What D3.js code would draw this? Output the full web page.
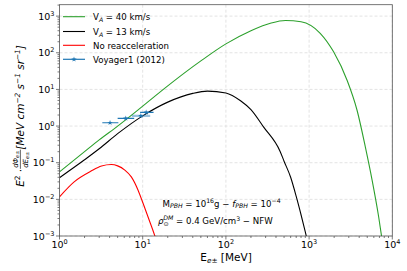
<!DOCTYPE html>
<html lang="en">
<head>
  <meta charset="UTF-8">
  <title>Positron flux</title>
  <style>
    body { margin: 0; background: #fff; }
    svg { display: block; font-family: 'DejaVu Sans', sans-serif; }
  </style>
</head>
<body>
<svg width="407" height="271"></svg>
<script src="https://d3js.org/d3.v7.min.js"></script>
<script>
// curves: [E (MeV), E^2 dPhi/dE]
const greenE = [1, 2, 3, 5, 10, 20, 50, 100, 200, 350, 520, 800, 1360, 1970, 2860, 3770, 4740, 5710, 6860, 7600];
const greenY = [0.056, 0.2, 0.42, 1.0, 3.5, 12.5, 60, 175, 400, 650, 760, 700, 340, 106, 17.8, 2.7, 0.27, 0.034, 0.0033, 0.0007];

const blackE = [1, 2, 3, 5, 10, 20, 40, 60, 100, 150, 200, 283, 450, 500, 600, 700, 800, 900, 960];
const blackY = [0.039, 0.12, 0.24, 0.62, 1.9, 4.5, 7.8, 9.0, 8.0, 4.9, 2.8, 0.95, 0.2, 0.11, 0.04, 0.012, 0.0038, 0.0013, 0.0007];

const redE = [1, 1.5, 2.4, 3.2, 4.2, 5, 6.1, 7.3, 8.8, 10.1, 11.6, 14, 15];
const redY = [0.0117, 0.03, 0.059, 0.081, 0.089, 0.082, 0.063, 0.041, 0.0178, 0.0078, 0.0033, 0.001, 0.0006];

// Voyager1 (2012) points
const voyE = [4.05, 6.26, 9.5, 11.0];
const voyY = [1.23, 1.62, 1.9, 2.36];
const voyElo = [3.27, 5.0, 7.4, 9.3];
const voyEhi = [5.1, 7.9, 12.3, 13.5];

const legendLabels = [["V", "A", " = 40 km/s"], ["V", "A", " = 13 km/s"], ["No reacceleration"], ["Voyager1 (2012)"]];
const xTicks = [1, 10, 100, 1000, 10000];
const yTicks = [1e-3, 1e-2, 1e-1, 1, 10, 100, 1000];

const svg = d3.select("svg");
const pL = 59.5, pR = 392.3, pT = 4.7, pB = 236;

const x = d3.scaleLog().domain([1, 1e4]).range([pL, pR]);
const y = d3.scaleLog().domain([1e-3, 2.05e3]).range([pB, pT]);

svg.append("defs").append("clipPath").attr("id", "clip")
  .append("rect").attr("x", pL).attr("y", pT).attr("width", pR - pL).attr("height", pB - pT);

// grid
const grid = svg.append("g").attr("stroke", "#dcdcdc").attr("stroke-width", 0.8).attr("stroke-dasharray", "3,2");
xTicks.forEach(t => grid.append("line").attr("x1", x(t)).attr("x2", x(t)).attr("y1", pT).attr("y2", pB));
yTicks.forEach(t => grid.append("line").attr("x1", pL).attr("x2", pR).attr("y1", y(t)).attr("y2", y(t)));

// ticks
const tickG = svg.append("g").attr("stroke", "#444").attr("stroke-width", 0.7);
x.ticks().forEach(t => {
  const major = xTicks.some(v => Math.abs(v - t) / v < 1e-6);
  tickG.append("line").attr("x1", x(t)).attr("x2", x(t)).attr("y1", pB).attr("y2", pB + (major ? 3.5 : 2));
});
y.ticks().forEach(t => {
  if (t > 2.05e3) return;
  const major = yTicks.some(v => Math.abs(v - t) / v < 1e-6);
  tickG.append("line").attr("x1", pL).attr("x2", pL - (major ? 3.5 : 2)).attr("y1", y(t)).attr("y2", y(t));
});

function powLabel(sel, exp) {
  sel.append("tspan").text("10");
  sel.append("tspan").attr("font-size", "6.5px").attr("dy", -4).text(exp);
}
xTicks.forEach(t => {
  const e = Math.round(Math.log10(t));
  const txt = svg.append("text").attr("x", x(t)).attr("y", pB + 11.5).attr("text-anchor", "middle")
    .attr("font-size", "9.5px").attr("fill", "#000");
  powLabel(txt, String(e));
});
yTicks.forEach(t => {
  const e = Math.round(Math.log10(t));
  const txt = svg.append("text").attr("x", pL - 5).attr("y", y(t) + 3.5).attr("text-anchor", "end")
    .attr("font-size", "9.5px").attr("fill", "#000");
  powLabel(txt, e < 0 ? "\u2212" + (-e) : String(e));
});

// curves
const line = d3.line().x(d => x(d[0])).y(d => y(d[1])).curve(d3.curveMonotoneX);
const plot = svg.append("g").attr("clip-path", "url(#clip)");
[[redE, redY, "#ff0000"], [blackE, blackY, "#000000"], [greenE, greenY, "#2ca02c"]].forEach(([es, ys, c]) => {
  plot.append("path").datum(es.map((e, i) => [e, ys[i]]))
    .attr("fill", "none").attr("stroke", c).attr("stroke-width", 1.1).attr("d", line);
});

// Voyager points
const star = d3.symbol().type(d3.symbolStar).size(9);
voyE.forEach((e, i) => {
  plot.append("line").attr("x1", x(voyElo[i])).attr("x2", x(voyEhi[i])).attr("y1", y(voyY[i])).attr("y2", y(voyY[i]))
    .attr("stroke", "#1f77b4").attr("stroke-width", i === 2 ? 2.2 : 1.2).attr("stroke-opacity", i === 2 ? 0.45 : 1);
  plot.append("path").attr("d", star).attr("transform", `translate(${x(e)},${y(voyY[i])})`).attr("fill", "#1f77b4");
});

// frame
svg.append("rect").attr("x", pL).attr("y", pT).attr("width", pR - pL).attr("height", pB - pT)
  .attr("fill", "none").attr("stroke", "#555").attr("stroke-width", 0.8);

// legend
const legColors = ["#2ca02c", "#000000", "#ff0000", "#1f77b4"];
const legRows = [16.7, 31.5, 45.3, 59.3];
legendLabels.forEach((lab, i) => {
  const ly = legRows[i];
  const g = svg.append("g");
  g.append("line").attr("x1", 63).attr("x2", 85).attr("y1", ly).attr("y2", ly)
    .attr("stroke", legColors[i]).attr("stroke-width", i === 3 ? 1.2 : 1.1);
  if (i === 3) g.append("path").attr("d", star).attr("transform", `translate(74,${ly})`).attr("fill", "#1f77b4");
  const t = g.append("text").attr("x", 93).attr("y", ly + 3.3).attr("font-size", "8.6px").attr("fill", "#000");
  if (lab.length === 3) {
    t.append("tspan").text(lab[0]);
    t.append("tspan").attr("font-style", "italic").attr("font-size", "6.2px").attr("dy", 1.8).text(lab[1]);
    t.append("tspan").attr("dy", -1.8).text(lab[2]);
  } else {
    t.text(lab[0]);
  }
});

// annotation
const ann1 = svg.append("text").attr("x", 162.5).attr("y", 206.5).attr("font-size", "8.6px").attr("fill", "#000");
ann1.append("tspan").text("M");
ann1.append("tspan").attr("font-style", "italic").attr("font-size", "6.2px").attr("dy", 1.8).text("PBH");
ann1.append("tspan").attr("dy", -1.8).text(" = 10");
ann1.append("tspan").attr("font-size", "6.2px").attr("dy", -3.5).text("16");
ann1.append("tspan").attr("dy", 3.5).text("g \u2212 ");
ann1.append("tspan").attr("font-style", "italic").text("f");
ann1.append("tspan").attr("font-style", "italic").attr("font-size", "6.2px").attr("dy", 1.8).text("PBH");
ann1.append("tspan").attr("dy", -1.8).text(" = 10");
ann1.append("tspan").attr("font-size", "6.2px").attr("dy", -3.5).text("\u22124");

const ann2 = svg.append("text").attr("x", 158).attr("y", 224).attr("font-size", "8.6px").attr("fill", "#000");
ann2.append("tspan").attr("font-style", "italic").text("\u03c1");
ann2.append("tspan").attr("font-size", "6.2px").attr("dy", 2).text("\u2299");
ann2.append("tspan").attr("font-style", "italic").attr("font-size", "6.2px").attr("dx", -5.5).attr("dy", -6.5).text("DM");
ann2.append("tspan").attr("dy", 4.5).text(" = 0.4 GeV/cm");
ann2.append("tspan").attr("font-size", "6.2px").attr("dy", -3.5).text("3");
ann2.append("tspan").attr("dy", 3.5).text(" \u2212  NFW");

// x label
const xl = svg.append("text").attr("x", 226).attr("y", 261).attr("text-anchor", "middle")
  .attr("font-size", "10.5px").attr("fill", "#000");
xl.append("tspan").text("E");
xl.append("tspan").attr("font-style", "italic").attr("font-size", "7.3px").attr("dy", 2.2).text("e\u00b1");
xl.append("tspan").attr("dy", -2.2).text(" [MeV]");

// y label, rotated
const yl = svg.append("g").attr("transform", "translate(24,116) rotate(-90)");
const p1 = yl.append("text").attr("font-size", "10.5px").attr("font-style", "italic").attr("fill", "#000");
p1.append("tspan").text("E");
p1.append("tspan").attr("font-size", "7.3px").attr("dy", -4).attr("font-style", "normal").text("2");
p1.append("tspan").attr("dy", 4).attr("font-style", "normal").text(" \u00b7 ");
const w1 = p1.node().getComputedTextLength();
const num = yl.append("text").attr("font-size", "7px").attr("font-style", "italic").attr("y", -6.5).attr("fill", "#000");
num.append("tspan").text("d\u03a6");
num.append("tspan").attr("font-size", "5px").attr("dy", 1.5).text("e\u00b1");
const den = yl.append("text").attr("font-size", "7px").attr("font-style", "italic").attr("y", 3.5).attr("fill", "#000");
den.append("tspan").text("dE");
den.append("tspan").attr("font-size", "5px").attr("dy", 1.5).text("e\u00b1");
const fw = Math.max(num.node().getComputedTextLength(), den.node().getComputedTextLength()) + 2;
const bar = yl.append("line").attr("y1", -3.6).attr("y2", -3.6).attr("stroke", "#000").attr("stroke-width", 0.6);
const p3 = yl.append("text").attr("font-size", "10.5px").attr("font-style", "italic").attr("fill", "#000");
p3.append("tspan").text(" [MeV cm");
p3.append("tspan").attr("font-size", "7.3px").attr("dy", -4).text("\u22122");
p3.append("tspan").attr("dy", 4).text(" s");
p3.append("tspan").attr("font-size", "7.3px").attr("dy", -4).text("\u22121");
p3.append("tspan").attr("dy", 4).text(" sr");
p3.append("tspan").attr("font-size", "7.3px").attr("dy", -4).text("\u22121");
p3.append("tspan").attr("dy", 4).text("]");
const w3 = p3.node().getComputedTextLength();
const total = w1 + fw + w3;
let cx = -total / 2;
p1.attr("x", cx); cx += w1;
num.attr("x", cx + 1); den.attr("x", cx + 1);
bar.attr("x1", cx).attr("x2", cx + fw); cx += fw;
p3.attr("x", cx);
</script>
</body>
</html>
